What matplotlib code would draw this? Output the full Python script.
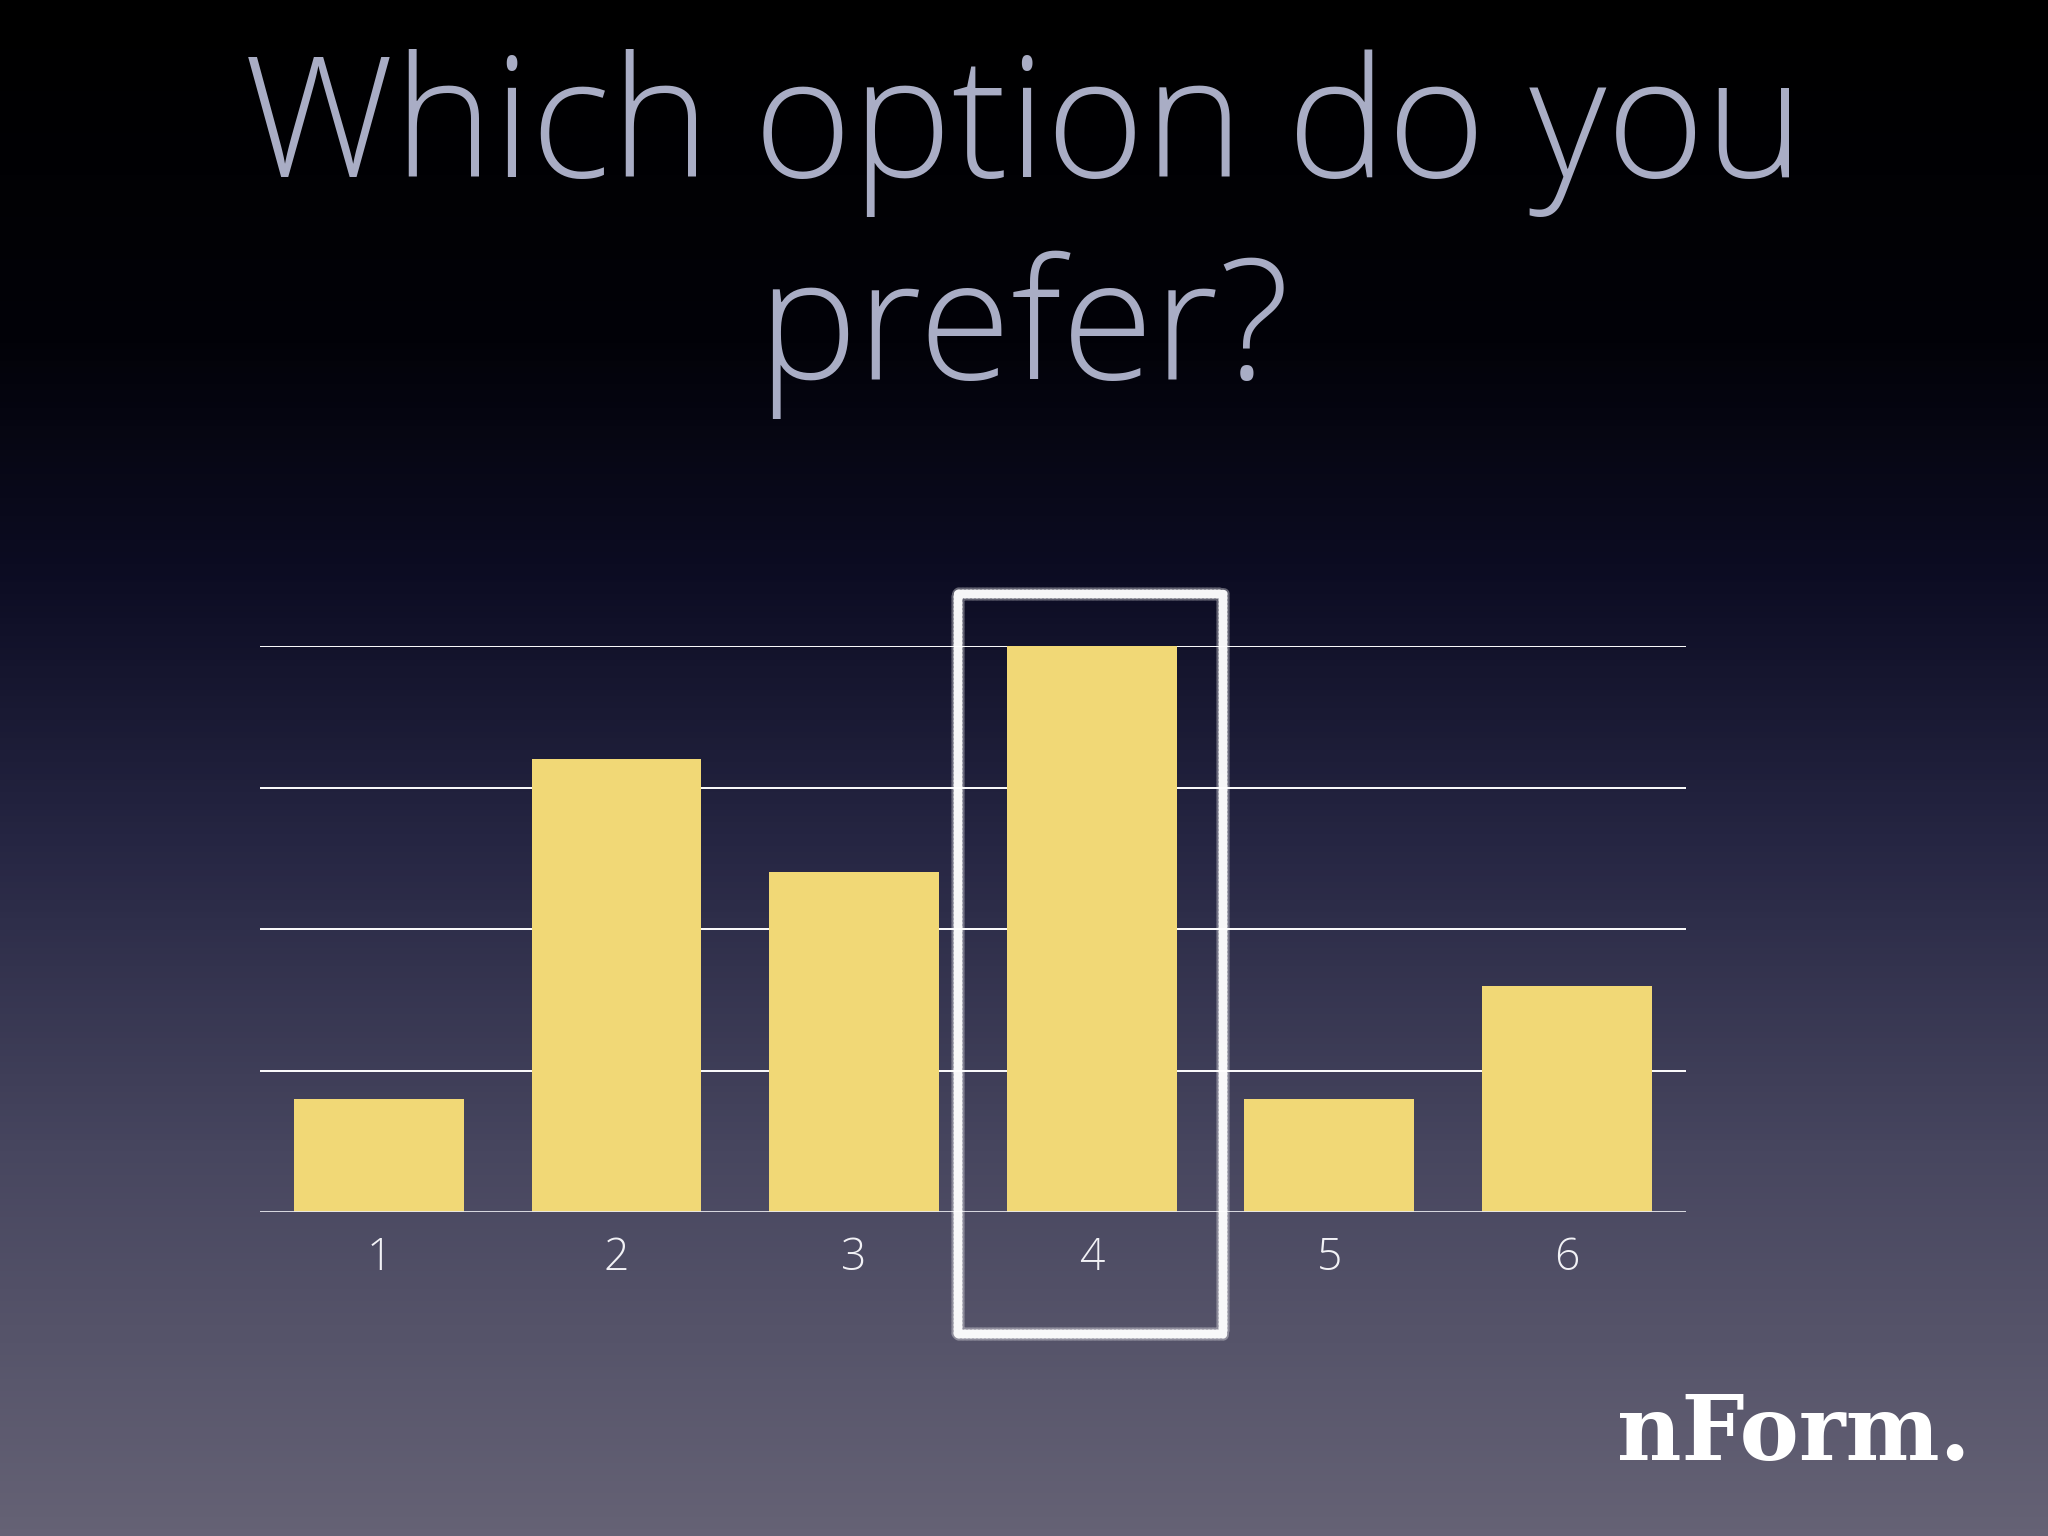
import numpy as np
import matplotlib
matplotlib.use('Agg')
import matplotlib.pyplot as plt
from matplotlib.colors import LinearSegmentedColormap
from matplotlib.patches import Rectangle

# Vote counts per option
options = ['1', '2', '3', '4', '5', '6']
votes = [1, 4, 3, 5, 1, 2]
grid_ticks = [0, 1.25, 2.5, 3.75, 5]
chosen = 3  # index of the highlighted option

title_lines = ['Which option do you', 'prefer?']
logo = 'nForm.'

bar_color = '#F1D876'
title_color = '#A9ADC5'
light_font = 'Open Sans'

fig = plt.figure(figsize=(20.48, 15.36), dpi=100)

# Background gradient
bg = fig.add_axes([0, 0, 1, 1], zorder=-10)
bg_cmap = LinearSegmentedColormap.from_list(
    'bg', [(0.0, '#000000'), (0.22, '#020208'), (0.38, '#0d0d24'),
           (0.55, '#262643'), (0.75, '#47465f'), (1.0, '#656275')])
grad = np.linspace(0, 1, 512).reshape(-1, 1)
bg.imshow(grad, aspect='auto', cmap=bg_cmap, extent=[0, 1, 1, 0])
bg.set_xlim(0, 1)
bg.set_ylim(1, 0)
bg.axis('off')

# Title
fig.text(0.5, 0.885, title_lines[0], ha='center', va='baseline',
         fontsize=121, family=light_font, fontweight='light', color=title_color)
fig.text(0.5, 0.753, title_lines[1], ha='center', va='baseline',
         fontsize=121, family=light_font, fontweight='light', color=title_color)

# Bar chart
ax = fig.add_axes([0.127, 1 - 1212 / 1536, 0.823 - 0.127, (1212 - 646) / 1536])
ax.patch.set_alpha(0)
x = np.arange(len(options))
ax.bar(x, votes, width=0.715, color=bar_color, zorder=2)
for t in grid_ticks[1:]:
    ax.axhline(t, color='white', lw=1.4, zorder=1)
ax.axhline(0, color='#e8e8ee', lw=2, zorder=3)
ax.set_xlim(-0.5, 5.5)
ax.set_ylim(0, 5)
for s in ax.spines.values():
    s.set_visible(False)
ax.set_yticks([])
ax.set_xticks(x)
ax.set_xticklabels(options, fontsize=32, family=light_font, fontweight='light',
                   color='#f2f2f6')
ax.tick_params(axis='x', length=0, pad=18)

# Chalk box around the chosen option
for lw, a, sc in [(8.5, 0.35, 0.8), (6, 0.95, 0.5)]:
    box = Rectangle((chosen - 0.563, -1.08), 1.115, 6.536, fill=False,
                    edgecolor='white', lw=lw, alpha=a, clip_on=False, zorder=5,
                    joinstyle='round')
    box.set_sketch_params(scale=sc, length=4, randomness=1)
    ax.add_patch(box)

# Logo
fig.text(0.962, 0.0495, logo, ha='right', va='baseline', fontsize=64,
         family='DejaVu Serif', fontweight='bold', color='white')

fig.savefig('out.png', dpi=100)
